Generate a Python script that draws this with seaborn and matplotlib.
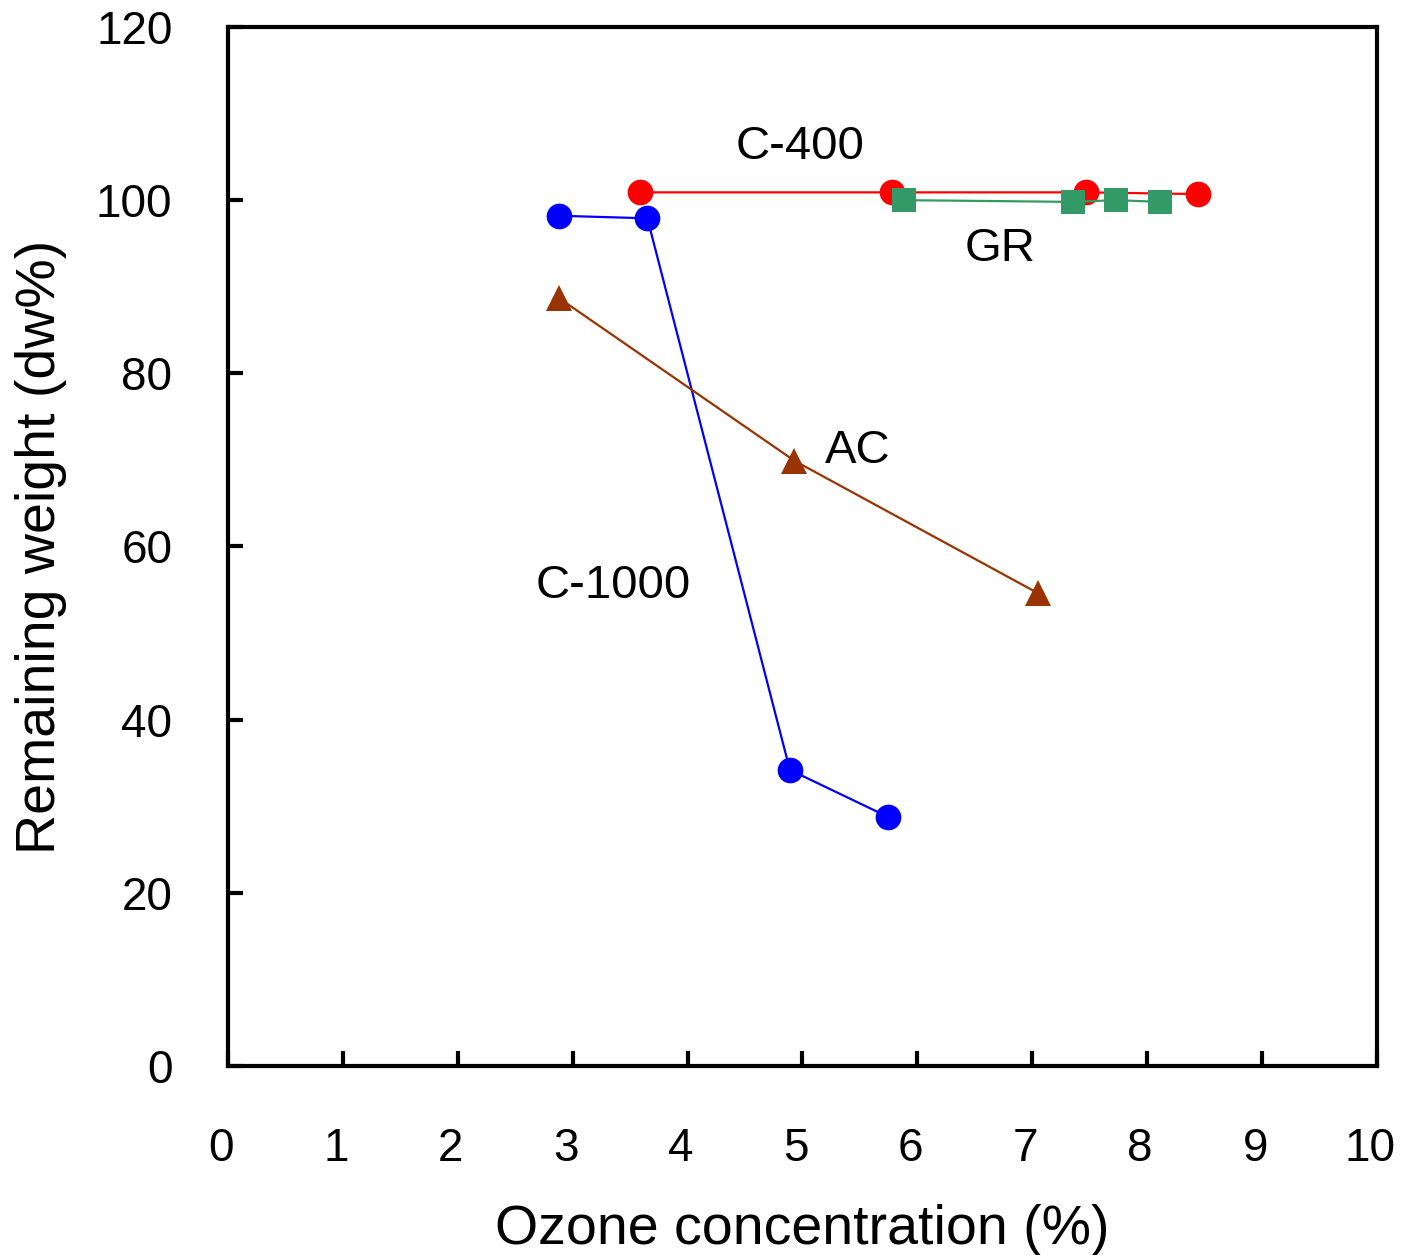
import matplotlib
matplotlib.use("Agg")
import matplotlib.pyplot as plt
import matplotlib.transforms as mtransforms
import seaborn as sns
import pandas as pd

# Data
c1000_x = [2.88, 3.65, 4.89, 5.74]
c1000_y = [98.2, 97.9, 34.2, 28.8]
c400_x = [3.59, 5.78, 7.47, 8.44]
c400_y = [100.9, 100.9, 100.9, 100.7]
gr_x = [5.88, 7.35, 7.73, 8.11]
gr_y = [100.0, 99.8, 100.0, 99.8]
ac_x = [2.88, 4.93, 7.05]
ac_y = [88.7, 69.9, 54.6]

x_ticks = list(range(0, 11))
y_ticks = list(range(0, 121, 20))

sns.set_style("white")
plt.rcParams['font.family'] = ['Liberation Sans', 'DejaVu Sans']
plt.rcParams['text.color'] = 'black'
plt.rcParams['axes.labelcolor'] = 'black'
plt.rcParams['xtick.color'] = 'black'
plt.rcParams['ytick.color'] = 'black'

fig = plt.figure(figsize=(14.01, 12.55), dpi=100)
ax = fig.add_axes([0.1627, 0.1506, 0.8202, 0.8279])

series = [
    (c400_x, c400_y, "#FF0000", "o", 18.5),
    (gr_x, gr_y, "#339966", "s", 17.5),
    (c1000_x, c1000_y, "#0000FF", "o", 18.5),
    (ac_x, ac_y, "#993300", "^", 18.5),
]
for xs, ys, col, mk, ms in series:
    df = pd.DataFrame({"x": xs, "y": ys})
    sns.lineplot(data=df, x="x", y="y", ax=ax, color=col, marker=mk,
                 markersize=ms, markeredgewidth=0, linewidth=1.6,
                 estimator=None, sort=False)

ax.set_xlim(0, 10)
ax.set_ylim(0, 120)
ax.set_xticks(x_ticks)
ax.set_yticks(y_ticks)
ax.tick_params(axis="both", direction="in", length=11, width=3,
               labelsize=33, bottom=True, left=True, top=False, right=False,
               colors="black")
ax.tick_params(axis="x", pad=44)
ax.tick_params(axis="y", pad=40)
for s in ax.spines.values():
    s.set_linewidth(3)
    s.set_color("black")

offset = mtransforms.ScaledTranslation(-7 / 100, 0, fig.dpi_scale_trans)
for lab in ax.get_xticklabels():
    lab.set_transform(lab.get_transform() + offset)

ax.set_xlabel("Ozone concentration (%)", fontsize=40, labelpad=24)
ax.set_ylabel("Remaining weight (dw%)", fontsize=40, labelpad=21)

txt_kw = dict(fontsize=34, ha="center", va="center", color="black")
ax.text(4.98, 106.1, "C-400", **txt_kw)
ax.text(6.72, 94.4, "GR", **txt_kw)
ax.text(5.48, 71.0, "AC", **txt_kw)
ax.text(3.35, 55.4, "C-1000", **txt_kw)

fig.savefig("out.png", dpi=100)
